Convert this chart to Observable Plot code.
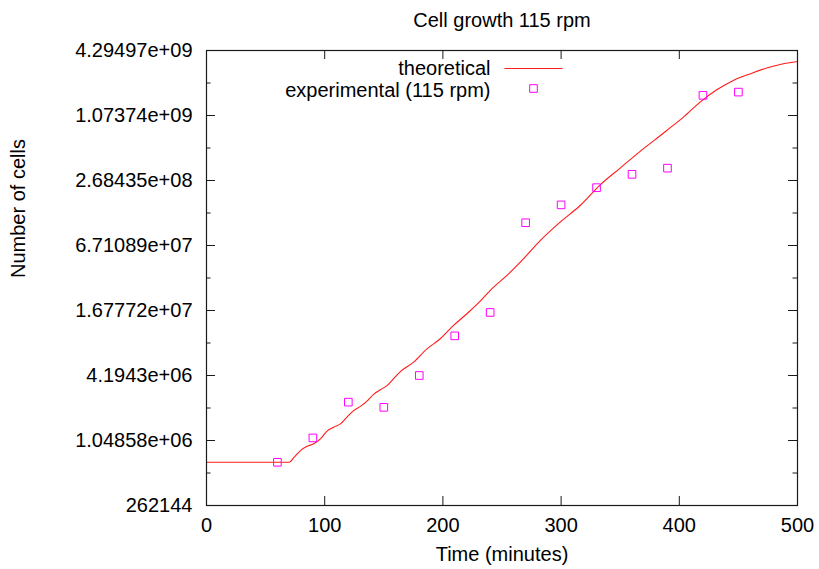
<!DOCTYPE html>
<html><head><meta charset="utf-8">
<script src="https://cdn.jsdelivr.net/npm/d3@7"></script>
<script src="https://cdn.jsdelivr.net/npm/@observablehq/plot@0.6"></script>
<style>html,body{margin:0;padding:0;background:#fff}</style>
</head><body><div id="chart"></div>
<script>
const chartTitle = "Cell growth 115 rpm";
const xLabel = "Time (minutes)";
const yLabel = "Number of cells";
const theoryName = "theoretical";
const expName = "experimental (115 rpm)";

const theoryTime = [0, 70, 73.8, 79.5, 85.1, 90.7, 96.4, 102.0, 107.6, 113.3, 118.9, 124.5, 130.2, 135.8, 141.4, 147.1, 152.7, 157.0, 164.0, 175.2, 186.5, 197.8, 209.0, 220.3, 231.6, 242.9, 254.2, 266.9, 282.3, 299.2, 316.1, 333.1, 350.0, 366.9, 378.2, 389.4, 403.5, 417.6, 431.7, 445.7, 459.8, 473.9, 488.0, 500];
const theoryCells = [659000, 659000, 726000, 846000, 926000, 978000, 1085000, 1282000, 1393000, 1493000, 1727000, 1984000, 2171000, 2428000, 2806000, 3092000, 3383000, 3780000, 4558000, 5573000, 7405000, 9180000, 12197000, 15653000, 20512000, 27632000, 35467000, 48788000, 74464000, 110528000, 157411000, 245000000, 350000000, 500000000, 625294000, 780610000, 1037176000, 1426671000, 1856500000, 2269890000, 2607500000, 2953860000, 3232400000, 3393000000];

const expTime = [60, 90, 120, 150, 180, 210, 240, 270, 300, 330, 360, 390, 420, 450];
const expCells = [659000, 1108000, 2376000, 2127000, 4194000, 9770000, 16094000, 109018000, 159612000, 230466000, 306231000, 349315000, 1650232000, 1768670000];

const xDomain = [0, 500];
const xTicks = [0, 100, 200, 300, 400, 500];
const yDomain = [262144, 4294967296];
const yTicks = [262144, 1048576, 4194304, 16777216, 67108864, 268435456, 1073741824, 4294967296];
const yTickLabels = ["262144", "1.04858e+06", "4.1943e+06", "1.67772e+07", "6.71089e+07", "2.68435e+08", "1.07374e+09", "4.29497e+09"];
const yMinorTicks = [524288, 2097152, 8388608, 33554432, 134217728, 536870912, 2147483648];

const W = 819, H = 569;
const mTop = 50, mBottom = 64, mLeft = 206, mRight = 22;
const pw = W - mLeft - mRight, ph = H - mTop - mBottom;
const font = "'Liberation Sans', Arial, Helvetica, sans-serif";
const fs = 20;
const axisColor = "#1a1a1a";

const theory = theoryTime.map((t, i) => ({t, n: theoryCells[i]}));
const exp = expTime.map((t, i) => ({t, n: expCells[i]}));

const lineSymbol = {draw(ctx) { ctx.moveTo(-29, 0); ctx.lineTo(29, 0); }};
const txt = {text: d => d, fontSize: fs, fill: "#000", lineAnchor: "middle"};

const chart = Plot.plot({
  width: W, height: H,
  marginTop: mTop, marginBottom: mBottom, marginLeft: mLeft, marginRight: mRight,
  style: {fontFamily: font, fontSize: fs + "px", color: "#000", background: "#fff"},
  x: {domain: xDomain},
  y: {type: "log", base: 2, domain: yDomain},
  marks: [
    Plot.axisY({ticks: yTicks, tickFormat: d => yTickLabels[yTicks.indexOf(d)], tickSize: 0, tickPadding: 14, label: null, fontSize: fs}),
    Plot.axisX({ticks: xTicks, tickFormat: d => String(d), tickSize: 0, tickPadding: 12, label: null, fontSize: fs}),
    Plot.tickY(yTicks, {y: d => d, insetRight: pw - 9, stroke: axisColor}),
    Plot.tickY(yTicks, {y: d => d, insetLeft: pw - 9, stroke: axisColor}),
    Plot.tickY(yMinorTicks, {y: d => d, insetRight: pw - 4.5, stroke: axisColor}),
    Plot.tickY(yMinorTicks, {y: d => d, insetLeft: pw - 4.5, stroke: axisColor}),
    Plot.tickX(xTicks, {x: d => d, insetTop: ph - 9, stroke: axisColor}),
    Plot.tickX(xTicks, {x: d => d, insetBottom: ph - 9, stroke: axisColor}),
    Plot.line(theory, {x: "t", y: "n", stroke: "#ff1a1a", strokeWidth: 1.1, curve: "monotone-x"}),
    Plot.dot(exp, {x: "t", y: "n", symbol: "square", r: 4.3, stroke: "#ff00ff", fill: "none", strokeWidth: 1}),
    Plot.frame({stroke: axisColor, strokeWidth: 1.2}),
    Plot.text([chartTitle], {...txt, frameAnchor: "top", dy: -30}),
    Plot.text([xLabel], {...txt, frameAnchor: "bottom", dy: 49}),
    Plot.text([yLabel], {...txt, frameAnchor: "left", dx: -188, rotate: -90}),
    Plot.text([theoryName], {...txt, frameAnchor: "top-left", dx: 284, dy: 18, textAnchor: "end"}),
    Plot.text([expName], {...txt, frameAnchor: "top-left", dx: 284, dy: 40, textAnchor: "end"}),
    Plot.dot([theoryName], {frameAnchor: "top-left", dx: 327, dy: 18, symbol: lineSymbol, stroke: "#ff1a1a", strokeWidth: 1.1}),
    Plot.dot([expName], {frameAnchor: "top-left", dx: 327, dy: 38, symbol: "square", r: 4.3, stroke: "#ff00ff", fill: "none", strokeWidth: 1})
  ]
});
document.getElementById("chart").appendChild(chart);
</script>
</body></html>
